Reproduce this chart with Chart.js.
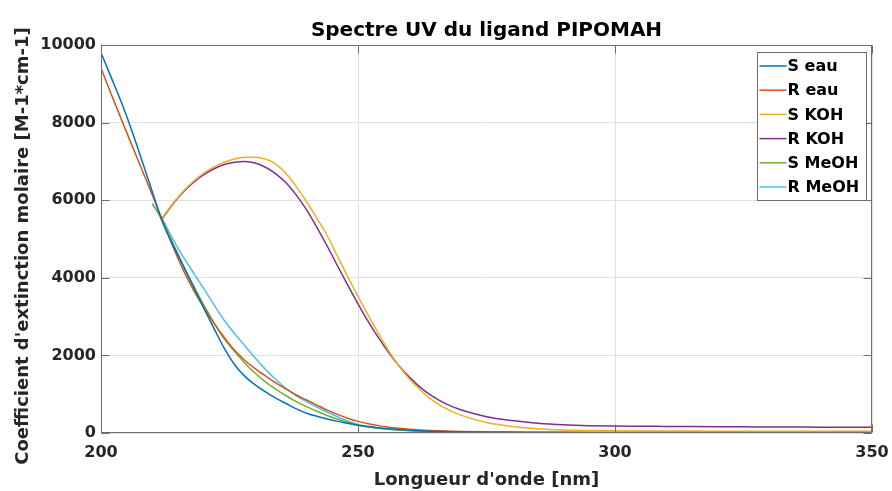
<!DOCTYPE html>
<html lang="fr">
<head>
<meta charset="utf-8">
<title>Spectre UV du ligand PIPOMAH</title>
<script src="https://cdn.jsdelivr.net/npm/chart.js@4.4.1/dist/chart.umd.min.js"></script>
<style>
  html, body { margin: 0; padding: 0; background: #fff; }
  #cadre { width: 892px; height: 491px; }
</style>
</head>
<body>
<div id="cadre"><canvas id="spectre"></canvas></div>
<script>
// Longueurs d'onde communes (nm)
const longueurs = [
  200, 202, 204, 206, 208, 210, 212, 214, 216, 218,
  220, 222, 224, 226, 228, 230, 232, 234, 236, 238,
  240, 242, 244, 246, 248, 250, 252, 254, 256, 258,
  260, 262, 264, 266, 268, 270, 275, 280, 285, 290,
  295, 300, 305, 310, 315, 320, 325, 330, 335, 340,
  345, 350
];

// Coefficients d'extinction molaire (M-1 cm-1), null = pas de mesure
const sEau = [
  9800, 9160, 8510, 7790, 7010, 6210, 5420, 4850, 4300, 3760,
  3220, 2690, 2180, 1760, 1460, 1240, 1060, 900, 760, 620,
  510, 430, 360, 300, 250, 200, 165, 135, 110, 90,
  72, 58, 47, 38, 31, 25, 15, 10, 7, 5,
  3, null, null, null, null, null, null, null, null, null,
  null, null
];
const rEau = [
  9400, 8730, 8070, 7420, 6780, 6130, 5470, 4800, 4200, 3680,
  3230, 2820, 2460, 2130, 1870, 1660, 1470, 1290, 1130, 980,
  850, 720, 590, 480, 380, 300, 240, 190, 150, 120,
  95, 78, 65, 55, 47, 40, 30, 24, 20, 17,
  15, 14, 13, 12, 12, 11, 11, 10, 10, 10,
  10, 10
];
const sKoh = [
  null, null, null, null, null, null, 5560, 5920, 6230, 6490,
  6700, 6860, 6980, 7060, 7110, 7110, 7060, 6930, 6690, 6350,
  5960, 5540, 5090, 4560, 4030, 3520, 3030, 2560, 2110, 1720,
  1390, 1120, 890, 710, 570, 460, 270, 170, 110, 78,
  62, 55, 52, 50, 49, 48, 47, 47, 46, 46,
  45, 45
];
const rKoh = [
  null, null, null, null, null, null, 5540, 5900, 6210, 6460,
  6660, 6810, 6920, 6980, 7000, 6960, 6850, 6680, 6450, 6130,
  5750, 5300, 4820, 4310, 3810, 3330, 2870, 2450, 2070, 1730,
  1440, 1190, 990, 830, 700, 600, 420, 320, 250, 210,
  190, 180, 175, 170, 166, 162, 159, 156, 153, 150,
  148, 146
];
const sMeoh = [
  null, null, null, null, null, 5920, 5450, 4880, 4330, 3800,
  3300, 2840, 2420, 2100, 1800, 1540, 1320, 1130, 960, 810,
  680, 560, 450, 355, 270, 200, 155, 120, 95, 75,
  60, 48, 40, 33, 28, 24, 17, 13, 11, 9,
  8, 7, 7, 6, 6, 6, 5, 5, 5, 5,
  5, 5
];
const rMeoh = [
  null, null, null, null, null, 5900, 5500, 4990, 4540, 4130,
  3720, 3300, 2900, 2560, 2250, 1930, 1640, 1380, 1150, 960,
  810, 670, 540, 420, 310, 220, 165, 125, 98, 78,
  63, 52, 44, 38, 34, 31, 27, 25, 24, 23,
  22, 22, 22, 21, 21, 21, 21, 20, 20, 20,
  20, 20
];

const noms = ["S eau", "R eau", "S KOH", "R KOH", "S MeOH", "R MeOH"];
const series = [sEau, rEau, sKoh, rKoh, sMeoh, rMeoh];
const couleurs = ["#0072BD", "#D95319", "#EDB120", "#7E2F8E", "#77AC30", "#4DBEEE"];

const ticksX = [200, 250, 300, 350];
const ticksY = [0, 2000, 4000, 6000, 8000, 10000];

const titreY = "Coefficient d'extinction molaire [M-1*cm-1]";

const POLICE = "'DejaVu Sans', 'Liberation Sans', sans-serif";
const GRIS_AXE = "#6e6e6e";

/**
 * Cadre des axes avec graduations vers l'intérieur (style MATLAB)
 */
const cadreAxes = {
  id: "cadreAxes",
  afterDatasetsDraw(chart) {
    const { ctx, chartArea: a, scales } = chart;
    const g = 8;
    const l = Math.round(a.left) + 0.5;
    const r = Math.round(a.right) - 0.5;
    const t = Math.round(a.top) + 0.5;
    const b = Math.round(a.bottom) - 0.5;
    ctx.save();
    ctx.strokeStyle = GRIS_AXE;
    ctx.lineWidth = 1;
    ctx.beginPath();
    ticksX.forEach((v) => {
      const px = Math.round(scales.x.getPixelForValue(v)) + 0.5;
      ctx.moveTo(px, b); ctx.lineTo(px, b - g);
      ctx.moveTo(px, t); ctx.lineTo(px, t + g);
    });
    ticksY.forEach((v) => {
      const py = Math.round(scales.y.getPixelForValue(v)) + 0.5;
      ctx.moveTo(l, py); ctx.lineTo(l + g, py);
      ctx.moveTo(r, py); ctx.lineTo(r - g, py);
    });
    ctx.stroke();
    ctx.strokeRect(l, t, r - l, b - t);
    ctx.restore();
  },
};

/**
 * Titre vertical de l'axe Y
 */
const titreAxeY = {
  id: "titreAxeY",
  afterDraw(chart) {
    const { ctx, chartArea: a } = chart;
    ctx.save();
    ctx.translate(23, (a.top + a.bottom) / 2 + 7);
    ctx.rotate(-Math.PI / 2);
    ctx.font = `bold 18px ${POLICE}`;
    ctx.fillStyle = "#262626";
    ctx.textAlign = "center";
    ctx.textBaseline = "middle";
    ctx.fillText(titreY, 0, 0);
    ctx.restore();
  },
};

/**
 * Légende encadrée dans le coin supérieur droit
 */
const boiteLegende = {
  id: "boiteLegende",
  afterDraw(chart) {
    const { ctx, chartArea: a } = chart;
    const largeur = 109;
    const pas = 24.2;
    const hauteur = 148;
    const x0 = Math.round(a.right - 6 - largeur) + 0.5;
    const y0 = Math.round(a.top + 7) + 0.5;
    ctx.save();
    ctx.fillStyle = "#ffffff";
    ctx.fillRect(x0, y0, largeur, hauteur);
    ctx.strokeStyle = GRIS_AXE;
    ctx.lineWidth = 1;
    ctx.strokeRect(x0, y0, largeur, hauteur);
    ctx.font = `bold 16px ${POLICE}`;
    ctx.textBaseline = "middle";
    ctx.textAlign = "left";
    chart.data.datasets.forEach((ds, i) => {
      const yc = y0 + 13.5 + i * pas;
      ctx.strokeStyle = ds.borderColor;
      ctx.lineWidth = 1.5;
      ctx.beginPath();
      ctx.moveTo(x0 + 2, yc);
      ctx.lineTo(x0 + 29, yc);
      ctx.stroke();
      ctx.fillStyle = "#000000";
      ctx.fillText(ds.label, x0 + 30, yc + 1);
    });
    ctx.restore();
  },
};

function construireSpectre() {
  const ctx = document.getElementById("spectre").getContext("2d");

  const jeux = series.map((serie, i) => ({
    label: noms[i],
    data: longueurs.map((x, k) => ({ x: x, y: serie[k] })),
    borderColor: couleurs[i],
    backgroundColor: couleurs[i],
    borderWidth: 1.5,
    pointRadius: 0,
    fill: false,
    cubicInterpolationMode: "monotone",
  }));

  new Chart(ctx, {
    type: "line",
    data: { datasets: jeux },
    options: {
      responsive: true,
      maintainAspectRatio: false,
      animation: false,
      devicePixelRatio: 1,
      layout: { padding: { left: 0, right: 20, top: 0, bottom: 0 } },
      plugins: {
        legend: { display: false },
        tooltip: { enabled: false },
        title: {
          display: true,
          text: "Spectre UV du ligand PIPOMAH",
          color: "#000000",
          fullSize: false,
          font: { family: POLICE, size: 20, weight: "bold" },
          padding: { top: 19, bottom: 2 },
        },
      },
      scales: {
        x: {
          type: "linear",
          min: 200,
          max: 350,
          afterBuildTicks: (s) => { s.ticks = ticksX.map((v) => ({ value: v })); },
          afterFit: (s) => { s.height = 58; },
          ticks: {
            color: "#262626",
            font: { family: POLICE, size: 16, weight: "bold" },
            padding: 0,
            maxRotation: 0,
            autoSkip: false,
            callback: (v) => String(v),
          },
          grid: { color: "#e0e0e0", drawTicks: true, tickLength: 10, tickColor: "rgba(0,0,0,0)" },
          border: { display: false },
          title: {
            display: true,
            text: "Longueur d'onde [nm]",
            color: "#262626",
            font: { family: POLICE, size: 18, weight: "bold" },
            padding: { top: 0, bottom: 0 },
          },
        },
        y: {
          type: "linear",
          min: 0,
          max: 10000,
          afterBuildTicks: (s) => { s.ticks = ticksY.map((v) => ({ value: v })); },
          afterFit: (s) => { s.width = 101; },
          ticks: {
            color: "#262626",
            font: { family: POLICE, size: 16, weight: "bold" },
            padding: 5,
            autoSkip: false,
            callback: (v) => String(v),
          },
          grid: { color: "#e0e0e0", drawTicks: false },
          border: { display: false },
        },
      },
    },
    plugins: [cadreAxes, titreAxeY, boiteLegende],
  });
}

document.addEventListener("DOMContentLoaded", construireSpectre);
</script>
</body>
</html>
